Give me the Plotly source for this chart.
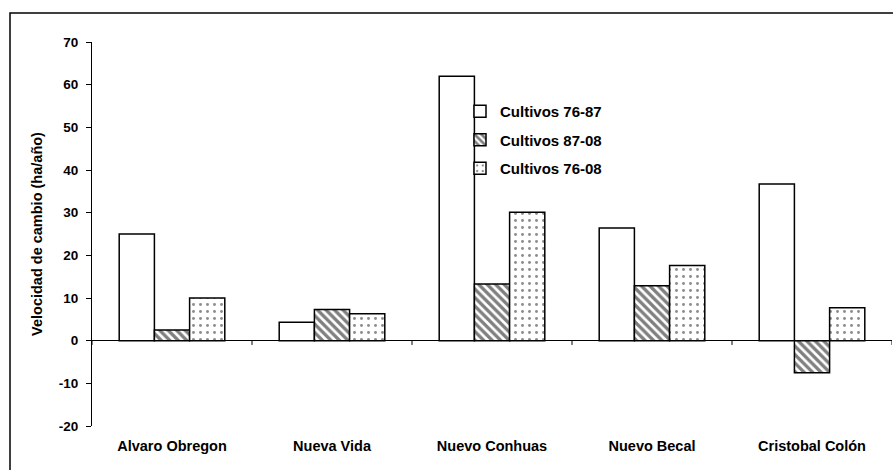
import plotly.graph_objects as go

categories = ["Alvaro Obregon", "Nueva Vida", "Nuevo Conhuas", "Nuevo Becal", "Cristobal Colón"]
cult_76_87 = [25.0, 4.3, 62.0, 26.4, 36.7]
cult_87_08 = [2.5, 7.3, 13.3, 12.9, -7.5]
cult_76_08 = [10.0, 6.3, 30.1, 17.6, 7.7]
series_names = ["Cultivos 76-87", "Cultivos 87-08", "Cultivos 76-08"]
y_ticks = [-20, -10, 0, 10, 20, 30, 40, 50, 60, 70]
y_tick_text = ["-20", "-10", "0", "10", "20", "30", "40", "50", "60", "70"]

FONT = "Liberation Sans, Arial, sans-serif"

fig = go.Figure()
fig.add_trace(go.Bar(
    x=categories, y=cult_76_87, name=series_names[0],
    marker=dict(color="white", line=dict(color="black", width=1.5)),
    legendgroup="a",
))
fig.add_trace(go.Bar(
    x=categories, y=cult_87_08, name=series_names[1],
    marker=dict(color="white", line=dict(color="black", width=1.5),
                pattern=dict(shape="\\", fgcolor="black", bgcolor="white",
                             size=6, solidity=0.55)),
    legendgroup="b",
))
fig.add_trace(go.Bar(
    x=categories, y=cult_76_08, name=series_names[2],
    marker=dict(color="white", line=dict(color="black", width=1.5),
                pattern=dict(shape=".", fgcolor="#1a1a1a", bgcolor="white",
                             size=7, solidity=0.14)),
    legendgroup="c",
))

# category boundary tick marks on the zero line
shapes = []
for i in range(len(categories) + 1):
    shapes.append(dict(type="line", xref="x", yref="y", x0=i - 0.5, x1=i - 0.5,
                       y0=0, y1=-1.0, line=dict(color="black", width=1)))
# outer frame
shapes.append(dict(type="rect", xref="paper", yref="paper",
                   x0=-0.1025, x1=1.2, y0=-0.3, y1=1.0755,
                   line=dict(color="black", width=1.5), fillcolor="rgba(0,0,0,0)",
                   layer="below"))

fig.update_layout(
    width=893, height=470,
    margin=dict(l=92, r=1, t=42, b=44),
    paper_bgcolor="white", plot_bgcolor="white",
    font=dict(family=FONT, size=12, color="black"),
    barmode="group", bargap=0.34, bargroupgap=0,
    showlegend=True,
    legend=dict(x=0.46, y=0.862, xanchor="left", yanchor="top",
                font=dict(family=FONT, size=15, color="black", weight="bold"),
                bgcolor="rgba(0,0,0,0)", tracegroupgap=6, itemwidth=30),
    shapes=shapes,
    xaxis=dict(range=[-0.5, len(categories) - 0.5], showline=False, showgrid=False,
               ticks="", ticklabelstandoff=9,
               tickfont=dict(family=FONT, size=14.5, weight="bold"),
               zeroline=False),
    yaxis=dict(range=[-20, 70], tickvals=y_ticks, ticktext=y_tick_text,
               showline=True, linecolor="black",
               linewidth=1, ticks="outside", ticklen=5, tickcolor="black",
               ticklabelstandoff=5,
               showgrid=False, zeroline=True, zerolinecolor="black", zerolinewidth=1,
               tickfont=dict(family=FONT, size=13.5, weight="bold"),
               title=dict(text="Velocidad de cambio (ha/año)",
                          font=dict(family=FONT, size=14.5, weight="bold"), standoff=12)),
)

fig.write_html("out.html", config={"displayModeBar": False},
               post_script="document.body.style.margin='0';document.body.style.overflow='hidden';")
